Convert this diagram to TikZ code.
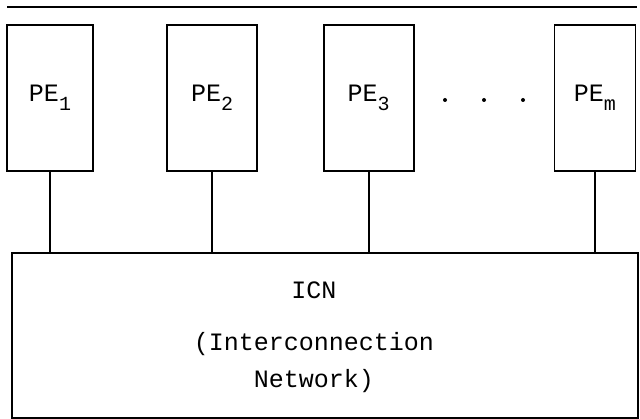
\documentclass[tikz,border=0pt]{standalone}
\usepackage{fontspec}
\setmonofont{Liberation Mono}
\usetikzlibrary{positioning}
\newcommand{\pename}[1]{PE\raisebox{-0.35em}{\fontsize{20}{20}\selectfont #1}}

\begin{document}
\begin{tikzpicture}[x=1pt,y=1pt,font=\ttfamily\fontsize{25}{28}\selectfont,line width=1.6pt,box/.style={draw,minimum height=146pt,minimum width=88pt,inner sep=0pt},dot/.style={circle,fill,inner sep=0pt,minimum size=4pt}]
\useasboundingbox (0,0) rectangle (640,419);
\coordinate (busl) at (7,412);
\coordinate (busr) at (637,412);
\draw (busl)--(busr);
\node[box,minimum width=86pt] (pe1) at (50,321) {\pename{1}};
\node[box,minimum width=90pt,right=72.5pt of pe1] (pe2) {\pename{2}};
\node[box,minimum width=90pt,right=65pt of pe2] (pe3) {\pename{3}};
\node[box,minimum width=81pt,right=139pt of pe3] (pem) {\pename{m}};
\node[dot] (dot1) at (445,319) {};
\node[dot] (dot2) at (484,319) {};
\node[dot] (dot3) at (523,319) {};
\node[box,minimum width=626pt,minimum height=165pt] (icn) at (325,83.5) {};
\node[align=center] (icnlabel) at (314,82) {ICN\\[24pt](Interconnection\\[9pt]Network)};
\foreach \p in {pe1,pe2,pe3,pem} \draw (\p.south)--(\p.south |- icn.north);
\end{tikzpicture}
\end{document}
